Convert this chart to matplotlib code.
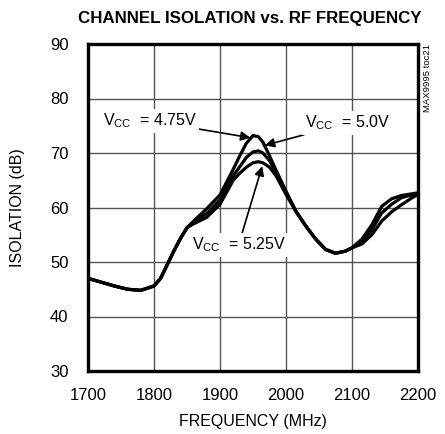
import matplotlib
matplotlib.use("Agg")
import matplotlib.pyplot as plt

FONT = ['Liberation Sans', 'DejaVu Sans']
plt.rcParams['font.family'] = FONT
plt.rcParams['mathtext.fontset'] = 'custom'
plt.rcParams['mathtext.rm'] = 'Liberation Sans'
plt.rcParams['mathtext.it'] = 'Liberation Sans'

# --- data ---
freq_common = [1700, 1720, 1740, 1760, 1780, 1800, 1810, 1820, 1830, 1840, 1850]
iso_common = [47.0, 46.3, 45.6, 45.0, 44.8, 45.6, 47.0, 49.5, 52.0, 54.3, 56.3]

freq_split = [1860, 1880, 1900, 1920, 1930, 1940, 1950, 1958, 1965, 1975, 1985,
              2000, 2015, 2030, 2045, 2060, 2075, 2090, 2100, 2115, 2130, 2145,
              2160, 2175, 2190, 2200]
iso_475 = [57.5, 59.8, 62.3, 67.0, 69.5, 71.8, 73.2, 73.0, 72.0, 69.5, 66.8,
           63.0, 59.3, 56.6, 54.2, 52.3, 51.6, 52.0, 52.6, 54.2, 56.8, 60.2,
           61.6, 62.2, 62.5, 62.7]
iso_500 = [57.3, 58.9, 61.4, 65.8, 67.5, 69.2, 70.2, 70.4, 70.0, 68.6, 66.5,
           62.8, 59.3, 56.6, 54.2, 52.3, 51.6, 52.0, 52.6, 53.8, 55.9, 59.0,
           60.6, 61.8, 62.3, 62.6]
iso_525 = [57.0, 58.2, 60.6, 65.0, 66.3, 67.4, 68.2, 68.4, 68.2, 67.4, 65.8,
           62.4, 59.3, 56.6, 54.2, 52.3, 51.6, 52.0, 52.6, 53.3, 55.0, 57.5,
           59.2, 60.5, 61.7, 62.4]

x_ticks = [1700, 1800, 1900, 2000, 2100, 2200]
y_ticks = [30, 40, 50, 60, 70, 80, 90]

fig = plt.figure(figsize=(4.45, 4.34), dpi=100)
ax = fig.add_axes([88/445, 1-371/434, 330/445, 327/434])

for series in (iso_475, iso_500, iso_525):
    ax.plot(freq_common + freq_split, iso_common + series, color='black',
            lw=2.3, solid_capstyle='round', solid_joinstyle='round', zorder=3)

ax.set_xlim(1700, 2200)
ax.set_ylim(30, 90)
ax.set_xticks(x_ticks)
ax.set_yticks(y_ticks)
ax.grid(True, color='#555555', lw=1.0)
ax.tick_params(length=0, labelsize=12, pad=14)
ax.tick_params(axis='x', pad=12)
for s in ax.spines.values():
    s.set_linewidth(2.4)
    s.set_zorder(5)

ax.set_xlabel('FREQUENCY (MHz)', fontsize=11.5)
ax.set_ylabel('ISOLATION (dB)', fontsize=11.5)
ax.xaxis.set_label_coords(0.5, -0.13)
ax.yaxis.set_label_coords(-0.191, 0.5)

fig.text(250/445, 1-18/434, 'CHANNEL ISOLATION vs. RF FREQUENCY',
         ha='center', va='center', fontsize=12.2, fontweight='bold')

fig.text(428/445, 1-44/434, 'MAX9995 toc21', rotation=90, ha='center',
         va='top', fontsize=6.8)

bbox = dict(boxstyle='square,pad=0.15', fc='white', ec='none')
arrow = dict(arrowstyle='-|>', color='black', lw=1.2, mutation_scale=14,
             shrinkA=0, shrinkB=0)

ax.annotate(r'$\mathrm{V_{CC}}$  = 4.75V', xy=(1946, 72.8), xytext=(1794, 75.9),
            ha='center', va='center', fontsize=11.5, bbox=bbox,
            arrowprops=arrow, zorder=6)
ax.annotate(r'$\mathrm{V_{CC}}$  = 5.0V', xy=(1968, 71.4), xytext=(2093, 75.5),
            ha='center', va='center', fontsize=11.5, bbox=bbox,
            arrowprops=arrow, zorder=6)
ax.annotate(r'$\mathrm{V_{CC}}$  = 5.25V', xy=(1964, 67.6), xytext=(1928, 53.1),
            ha='center', va='center', fontsize=11.5, bbox=bbox,
            arrowprops=arrow, zorder=6)

fig.savefig('out.png', dpi=100)
